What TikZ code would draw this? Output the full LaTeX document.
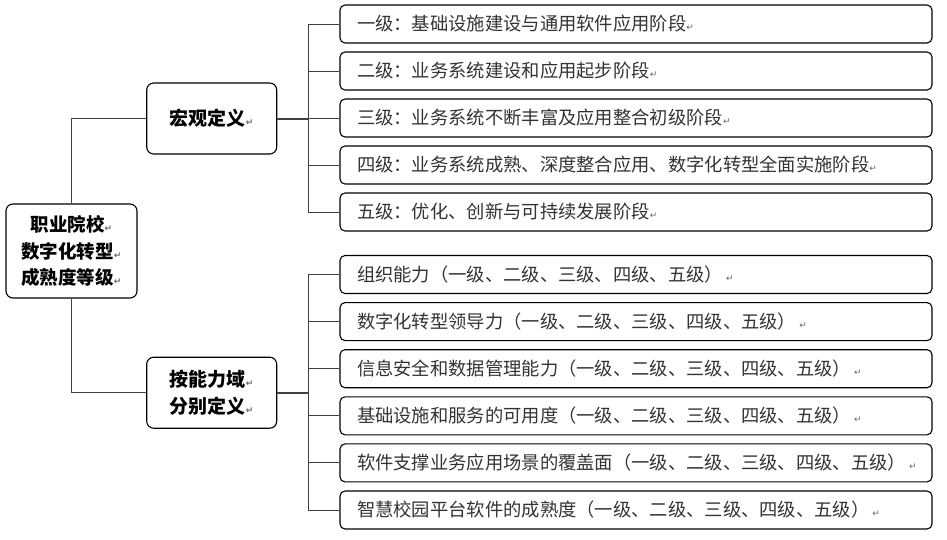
\documentclass[tikz,border=0pt]{standalone}
\usepackage{fontspec}
\setmainfont{Noto Sans CJK SC}
\newfontfamily\dejavu{DejaVu Sans}
\newcommand\parmk{{\dejavu\fontsize{9}{9}\selectfont\textcolor{black!60}{↵}}}
\begin{document}
\begin{tikzpicture}[x=1pt,y=-1pt,
  rbox/.style={draw=black, line width=1.1pt, rounded corners=5pt,
    minimum width=592pt, minimum height=38pt, text width=558pt,
    inner xsep=17pt, inner ysep=0pt, align=left, text=black!80,
    font=\fontsize{18.3}{22}\selectfont},
  lbox/.style={draw=black, line width=1.1pt, rounded corners=7pt,
    minimum width=130pt, minimum height=71pt, align=center, inner sep=0pt,
    font=\bfseries\fontsize{19}{26.5}\selectfont},
  conn/.style={draw=black!75, line width=1pt},
  connthick/.style={draw=black!75, line width=2pt}]
\useasboundingbox (0,0) rectangle (947,539);

% root and second level
\node[lbox, minimum width=131pt, minimum height=94pt,
  font=\bfseries\fontsize{18.5}{26.5}\selectfont] (root) at (71.5,251)
  {职业院校\parmk\\数字化转型\parmk\\成熟度等级\parmk};
\node[lbox] (macro) at (211.7,118.5) {宏观定义\parmk};
\node[lbox] (ability) at (211.7,392.7) {按能力域\parmk\\分别定义\parmk};

\draw[conn] (root.north) |- (macro.west);
\draw[conn] (root.south) |- (ability.west);

% spines
\coordinate (s1) at (308,118.5);
\coordinate (s2) at (308,392.7);
\draw[connthick] (macro.east) -- (s1);
\draw[connthick] (ability.east) -- (s2);

% macro children
\node[rbox] (a1) at (636,24) {一级：基础设施建设与通用软件应用阶段\parmk};
\node[rbox] (a2) at (636,71) {二级：业务系统建设和应用起步阶段\parmk};
\node[rbox] (a3) at (636,118) {三级：业务系统不断丰富及应用整合初级阶段\parmk};
\node[rbox] (a4) at (636,165) {四级：业务系统成熟、深度整合应用、数字化转型全面实施阶段\parmk};
\node[rbox] (a5) at (636,212) {五级：优化、创新与可持续发展阶段\parmk};
\foreach \i in {1,...,5} \draw[conn] (s1) |- (a\i.west);

% ability children
\node[rbox] (b1) at (636,274.5) {组织能力（一级、二级、三级、四级、五级）\,\parmk};
\node[rbox] (b2) at (636,321.6) {数字化转型领导力（一级、二级、三级、四级、五级）\,\parmk};
\node[rbox] (b3) at (636,368.7) {信息安全和数据管理能力（一级、二级、三级、四级、五级）\,\parmk};
\node[rbox] (b4) at (636,415.8) {基础设施和服务的可用度（一级、二级、三级、四级、五级）\,\parmk};
\node[rbox] (b5) at (636,462.9) {软件支撑业务应用场景的覆盖面（一级、二级、三级、四级、五级）\,\parmk};
\node[rbox] (b6) at (636,510) {智慧校园平台软件的成熟度（一级、二级、三级、四级、五级）\,\parmk};
\foreach \i in {1,...,6} \draw[conn] (s2) |- (b\i.west);
\end{tikzpicture}
\end{document}
